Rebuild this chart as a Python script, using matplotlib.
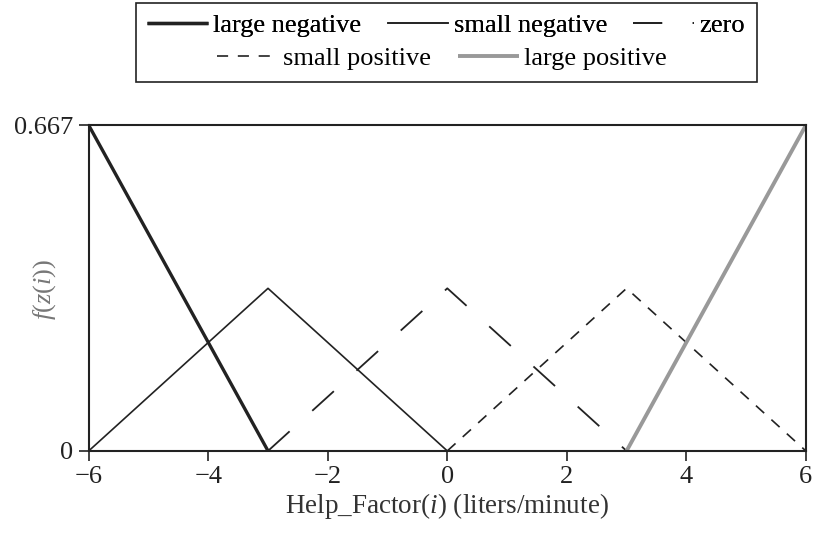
import matplotlib
matplotlib.use("Agg")
import matplotlib.pyplot as plt
from matplotlib.patches import Rectangle

plt.rcParams['font.family'] = ['Liberation Serif', 'DejaVu Serif']
plt.rcParams['mathtext.fontset'] = 'custom'
plt.rcParams['mathtext.rm'] = 'Liberation Serif'
plt.rcParams['mathtext.it'] = 'Liberation Serif:italic'
plt.rcParams['lines.scale_dashes'] = False

# Data: membership function vertices
peak = 0.333
top = 0.667
ln_x = [-6, -3]
ln_y = [top, 0]
sn_x = [-6, -3, 0]
sn_y = [0, peak, 0]
z_x = [-3, 0, 3]
z_y = [0, peak, 0]
sp_x = [0, 3, 6]
sp_y = [0, peak, 0]
lp_x = [3, 6]
lp_y = [0, top]
xticks = [-6, -4, -2, 0, 2, 4, 6]
yticks = [0, 0.667]
ytick_labels = ['0', '0.667']

fig = plt.figure(figsize=(8.14, 5.33), dpi=100)
ax = fig.add_axes([0.109, 0.154, 0.881, 0.611])

h1, = ax.plot(ln_x, ln_y, color='#222222', lw=2.4, solid_capstyle='butt', label='large negative')
h2, = ax.plot(sn_x, sn_y, color='#222222', lw=1.2, label='small negative')
h3, = ax.plot(z_x, z_y, color='#222222', lw=1.3, dashes=(21, 22), label='zero')
h4, = ax.plot(sp_x, sp_y, color='#222222', lw=1.2, dashes=(8, 7), label='small positive')
h5, = ax.plot(lp_x, lp_y, color='#999999', lw=2.8, solid_capstyle='butt', label='large positive')

ax.set_xlim(-6, 6)
ax.set_ylim(0, 0.667)
ax.set_xticks(xticks)
ax.set_yticks(yticks)
ax.set_yticklabels(ytick_labels)
ax.tick_params(direction='out', length=7, width=1.2, labelsize=19, colors='#222222', pad=4)
for s in ax.spines.values():
    s.set_linewidth(1.5)
    s.set_color('#222222')

ax.set_xlabel('Help_Factor($i$) (liters/minute)', fontsize=19.5, color='#333333', labelpad=2)
ax.set_ylabel('$f(z(i))$', fontsize=19, color='#777777')
ax.yaxis.set_label_coords(-0.043, 0.494)

common = dict(frameon=False, fontsize=19, handlelength=2.3, handletextpad=0.2,
              columnspacing=1.0, borderaxespad=0, borderpad=0)
leg1 = fig.legend(handles=[h1, h2, h3], loc='center', bbox_to_anchor=(0.548, 0.953), ncol=3, **common)
leg2 = fig.legend(handles=[h4, h5], loc='center', bbox_to_anchor=(0.543, 0.891), ncol=2, **common)
fig.add_artist(leg1)
fig.patches.append(Rectangle((0.167, 0.846), 0.763, 0.148, transform=fig.transFigure,
                             fill=False, edgecolor='#222222', lw=1.2))

fig.savefig('out.png', dpi=100)
